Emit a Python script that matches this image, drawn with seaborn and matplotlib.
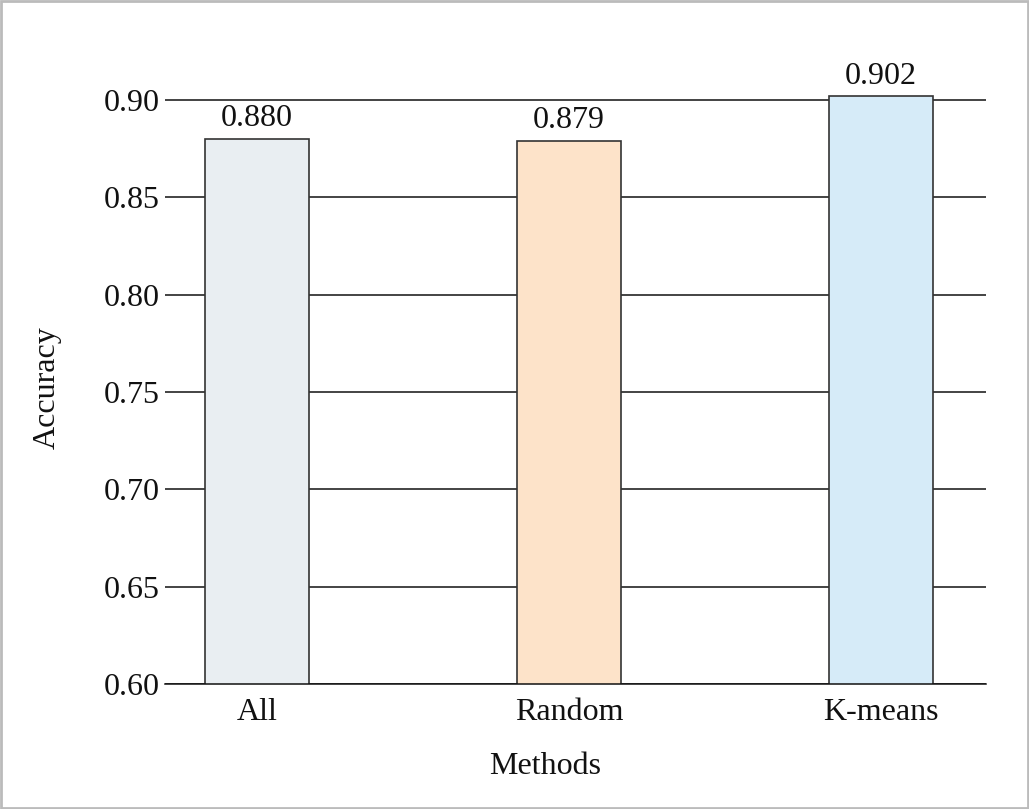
import matplotlib.pyplot as plt
import seaborn as sns
import pandas as pd
from matplotlib.patches import Rectangle

# datos
methods = ["All", "Random", "K-means"]
accuracy = [0.880, 0.879, 0.902]
bar_colors = ["#E9EEF2", "#FDE3C9", "#D6EBF8"]
y_ticks = [0.60, 0.65, 0.70, 0.75, 0.80, 0.85, 0.90]

df = pd.DataFrame({"Methods": methods, "Accuracy": accuracy})

sns.set_style("white")
plt.rcParams["font.family"] = ["Liberation Serif", "DejaVu Serif"]
plt.rcParams["font.size"] = 23
plt.rcParams["text.color"] = "#111111"
plt.rcParams["axes.labelcolor"] = "#111111"
plt.rcParams["xtick.color"] = "#111111"
plt.rcParams["ytick.color"] = "#111111"

fig = plt.figure(figsize=(10.29, 8.09), dpi=100)
ax = fig.add_axes([0.1603, 0.1545, 0.7979, 0.7339])

# líneas de rejilla detrás de las barras
ax.set_axisbelow(True)
ax.yaxis.grid(True, color="#111111", linewidth=1.1)
ax.xaxis.grid(False)

sns.barplot(
    data=df, x="Methods", y="Accuracy", hue="Methods",
    palette=bar_colors, saturation=1, legend=False, width=0.333,
    edgecolor="#333333", linewidth=1.2, ax=ax
)

for cont in ax.containers:
    ax.bar_label(cont, fmt="%.3f", padding=4, fontsize=23)

ax.set_ylim(0.60, 0.905)
ax.set_xlim(-0.295, 2.337)
ax.set_yticks(y_ticks)
ax.set_yticklabels([f"{t:.2f}" for t in y_ticks])
ax.tick_params(axis="both", length=0, labelsize=23)
ax.tick_params(axis="y", pad=4)
ax.tick_params(axis="x", pad=10)

for s in ["top", "right", "left"]:
    ax.spines[s].set_visible(False)
ax.spines["bottom"].set_color("#111111")
ax.spines["bottom"].set_linewidth(1.1)

ax.set_xlabel("Methods", fontsize=23, labelpad=20)
ax.xaxis.set_label_coords(0.463, -0.115)
ax.set_ylabel("Accuracy", fontsize=23, labelpad=30)

# marco gris de la figura
fig.patches.append(Rectangle((0.001, 0.001), 0.998, 0.998, transform=fig.transFigure,
                             fill=False, edgecolor="#BBBBBB", linewidth=2))

fig.savefig("out.png", dpi=100)
